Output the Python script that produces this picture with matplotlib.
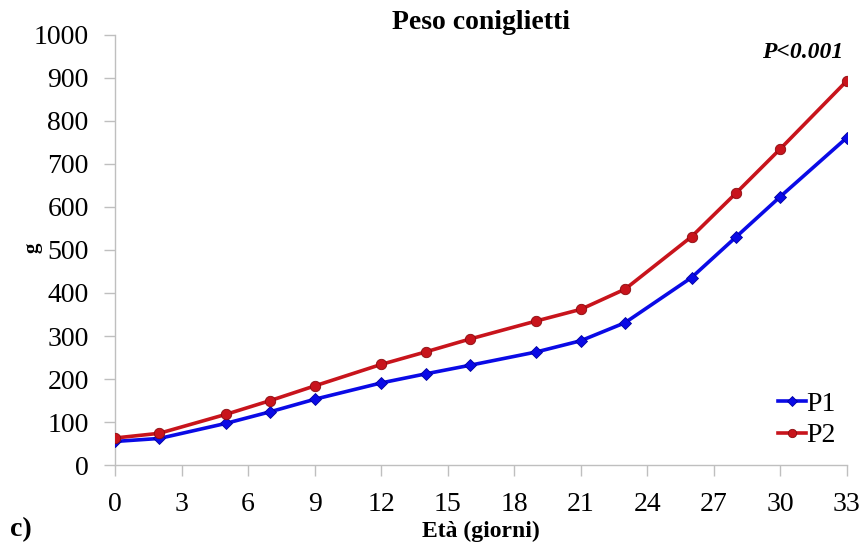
import numpy as np
import matplotlib.pyplot as plt

# Data
eta = [0, 2, 5, 7, 9, 12, 14, 16, 19, 21, 23, 26, 28, 30, 33]
p1 = [55, 62, 97, 124, 153, 191, 212, 232, 263, 289, 331, 436, 530, 624, 761]
p2 = [63, 74, 118, 150, 184, 234, 263, 293, 335, 362, 409, 531, 632, 735, 893]
xticks = list(range(0, 34, 3))
yticks = list(range(0, 1001, 100))

plt.rcParams['font.family'] = ['Liberation Serif', 'DejaVu Serif']

fig = plt.figure(figsize=(8.65, 5.44), dpi=100)
ax = fig.add_axes([0.133, 0.145, 0.846, 0.791])

ax.plot(eta, p1, color='#0a0ae6', lw=2.6, marker='D', ms=6.5,
        markeredgecolor='#0000a0', markeredgewidth=0.6, label='P1', zorder=3)
ax.plot(eta, p2, color='#c8141c', lw=2.6, marker='o', ms=7.5,
        markeredgecolor='#8a0a0e', markeredgewidth=0.6, label='P2', zorder=3)

ax.set_xlim(0, 33)
ax.set_ylim(0, 1000)
ax.set_xticks(xticks)
ax.set_yticks(yticks)
ax.tick_params(axis='both', labelsize=20, colors='#bfbfbf', labelcolor='black',
               length=8, width=1, direction='out')
ax.tick_params(axis='x', pad=11)
ax.tick_params(axis='y', pad=11)

for s in ['top', 'right']:
    ax.spines[s].set_visible(False)
for s in ['left', 'bottom']:
    ax.spines[s].set_color('#bfbfbf')
    ax.spines[s].set_linewidth(1)

ax.set_title('Peso coniglietti', fontsize=20, fontweight='bold', pad=2)
ax.set_xlabel('Età (giorni)', fontsize=17, fontweight='bold')
ax.xaxis.set_label_coords(0.5, -0.13)
ax.set_ylabel('g', fontsize=15, fontweight='bold', va='center')
ax.yaxis.set_label_coords(-0.113, 0.505)

ax.text(31.0, 960, 'P<0.001', fontsize=17, fontweight='bold', style='italic',
        ha='center', va='center')
fig.text(0.011, 0.004, 'c)', fontsize=20, fontweight='bold', ha='left', va='bottom')

leg = ax.legend(loc='lower right', bbox_to_anchor=(1.007, 0.0), frameon=False,
                fontsize=20, handlelength=1.0, handletextpad=0.0,
                labelspacing=0.22, borderaxespad=0.2, markerscale=0.8)

fig.savefig('out.png', dpi=100)
